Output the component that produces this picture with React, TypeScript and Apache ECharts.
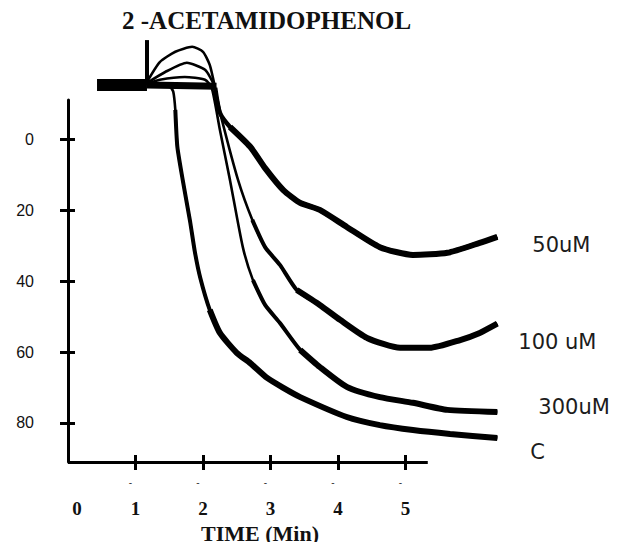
import React, { useEffect, useRef } from "react";
import * as echarts from "echarts";

// ---- Text ----
const chartTitle = "2 -ACETAMIDOPHENOL";
const xAxisName = "TIME (Min)";

// ---- Axis ticks / labels ----
const xTickLabels = [0, 1, 2, 3, 4, 5];
const xTickMarks = [1, 2, 3, 4, 5];
const yTickLabels = [0, 20, 40, 60, 80];
const xMin = 0;
const xAxisEnd = 5.33; // where the drawn time axis stops
const xTraceEnd = 6.4; // the recorder traces run past the axis
const yMin = -11.1; // top of the drawn axis (inverted scale)
const yMax = 91.0; // bottom of the drawn axis

// ---- Trace data: [time (min), % aggregation] ----
const baselineEarly: [number, number][] = [
  [0.43, -15.3],
  [0.8, -15.3],
  [1.17, -15.3],
];
const baselineLate: [number, number][] = [
  [1.17, -15.3],
  [1.6, -15.2],
  [2.2, -15.0],
];
const agonistSpike: [number, number][] = [
  [1.17, -28.0],
  [1.17, -15.3],
];

const curve50: [number, number][] = [
  [1.17, -16.2], [1.36, -21.8], [1.59, -24.7], [1.84, -26.1], [2.0, -24.7],
  [2.1, -21.0], [2.18, -14.5], [2.25, -7.5], [2.4, -3.5], [2.7, 2.1],
  [2.92, 8.1], [3.19, 14.3], [3.44, 17.9], [3.73, 19.9], [4.13, 24.7],
  [4.62, 30.4], [5.11, 32.6], [5.62, 32.0], [6.1, 29.2], [6.36, 27.5],
];
const curve100: [number, number][] = [
  [1.17, -15.9], [1.44, -19.0], [1.76, -21.6], [2.03, -19.6], [2.16, -15.4],
  [2.28, -5.5], [2.52, 11.5], [2.73, 22.7], [2.92, 30.4], [3.14, 35.4],
  [3.39, 42.5], [3.73, 46.7], [4.03, 50.9], [4.43, 56.0], [4.92, 58.8],
  [5.36, 58.8], [5.81, 56.6], [6.1, 54.6], [6.36, 52.0],
];
const curve300: [number, number][] = [
  [1.17, -15.6], [1.36, -16.8], [1.73, -17.6], [2.03, -16.8], [2.13, -14.5],
  [2.25, -2.7], [2.4, 11.5], [2.59, 30.4], [2.74, 39.7], [2.92, 46.7],
  [3.14, 51.8], [3.44, 59.4], [3.73, 64.2], [4.13, 69.8], [4.62, 72.7],
  [5.11, 74.3], [5.62, 76.3], [6.36, 76.9],
];
const curveC: [number, number][] = [
  [1.17, -15.1], [1.51, -14.8], [1.56, -13.4], [1.59, -8.3], [1.62, 2.1],
  [1.7, 11.5], [1.81, 23.3], [1.88, 31.8], [1.96, 39.1], [2.1, 48.1],
  [2.25, 54.6], [2.5, 60.2], [2.7, 63.1], [2.95, 67.3], [3.19, 70.1],
  [3.44, 72.7], [4.13, 78.3], [4.62, 80.6], [5.11, 82.0], [5.66, 83.1],
  [6.36, 84.2],
];

const traceNames = ["50uM", "100 uM", "300uM", "C"];
const traces = [curve50, curve100, curve300, curveC];
// the recorder pen line gets thicker (noisier) as each trace settles
const midFrom = [2.17, 2.7, 2.7, 1.59];
const thickFrom = [2.4, 3.3, 3.3, 2.1];
const thinWidth = [2.6, 2.6, 2.6, 2.6];
const midWidth = [4.5, 4, 4, 4];
const thickWidth = [6, 6, 6, 6];
// end label placement relative to the trace end [distance, dy]
const labelPlace: [number, number][] = [
  [35, 8],
  [21, 18],
  [41, -5],
  [33, 14],
];

export default function App() {
  const ref = useRef<HTMLDivElement>(null);

  useEffect(() => {
    if (!ref.current) return;
    const chart = echarts.init(ref.current, null, { renderer: "svg" });

    const ink = "#000";
    const base = {
      type: "line" as const,
      symbol: "none",
      showSymbol: false,
      clip: false,
      silent: true,
      smooth: 0.2,
      xAxisIndex: 0,
      yAxisIndex: 0,
    };

    const series: any[] = [];
    series.push({
      ...base,
      smooth: false,
      data: baselineEarly,
      lineStyle: { color: ink, width: 12 },
      // the drawn time axis, which stops short of the traces' end
      markLine: {
        silent: true,
        symbol: "none",
        label: { show: false },
        lineStyle: { color: ink, width: 3, type: "solid" },
        data: [[{ coord: [xMin, yMax] }, { coord: [xAxisEnd, yMax] }]],
      },
    });
    series.push({ ...base, smooth: false, data: baselineLate, lineStyle: { color: ink, width: 7 } });
    series.push({ ...base, smooth: false, data: agonistSpike, lineStyle: { color: ink, width: 4 } });

    traces.forEach((pts, i) => {
      series.push({
        ...base,
        name: traceNames[i] + " thin",
        data: pts,
        lineStyle: { color: ink, width: thinWidth[i] },
      });
      series.push({
        ...base,
        name: traceNames[i] + " mid",
        data: pts.filter((p) => p[0] >= midFrom[i]),
        lineStyle: { color: ink, width: midWidth[i] },
      });
      series.push({
        ...base,
        name: traceNames[i],
        data: pts.filter((p) => p[0] >= thickFrom[i]),
        lineStyle: { color: ink, width: thickWidth[i] },
        endLabel: {
          show: true,
          formatter: traceNames[i],
          distance: labelPlace[i][0],
          offset: [0, labelPlace[i][1]],
          color: "#1c1c1c",
          fontFamily: "DejaVu Sans",
          fontSize: 21,
          align: "left",
          verticalAlign: "middle",
        },
      });
    });

    chart.setOption({
      animation: false,
      backgroundColor: "#fff",
      title: {
        text: chartTitle,
        left: 122,
        top: 8,
        padding: 0,
        textStyle: {
          fontFamily: "Liberation Serif",
          fontWeight: "bold",
          fontSize: 25,
          color: "#111",
        },
      },
      grid: { left: 68, top: 100, width: 432, height: 362, containLabel: false },
      xAxis: [
        {
          type: "value",
          position: "bottom",
          min: xMin,
          max: xTraceEnd,
          name: xAxisName,
          nameLocation: "middle",
          nameGap: 56,
          nameTextStyle: {
            fontFamily: "Liberation Serif",
            fontWeight: "bold",
            fontSize: 22,
            color: "#111",
            padding: [0, 48, 0, 0],
          },
          axisLine: { show: false, onZero: false },
          axisTick: {
            show: true,
            customValues: xTickMarks,
            length: 8,
            lineStyle: { color: ink, width: 3 },
          },
          axisLabel: {
            customValues: xTickLabels,
            margin: 7,
            formatter: (v: number) => (v === 0 ? "{s| }\n{z|0}" : "{d|-}\n{n|" + v + "}"),
            rich: {
              s: { fontSize: 10, lineHeight: 26 },
              d: {
                fontSize: 10,
                lineHeight: 26,
                color: "#333",
                fontFamily: "Liberation Sans",
                padding: [0, 10, 0, 0],
              },
              n: {
                fontFamily: "Liberation Serif",
                fontWeight: "bold",
                fontSize: 19,
                lineHeight: 26,
                color: "#111",
              },
              z: {
                fontFamily: "Liberation Serif",
                fontWeight: "bold",
                fontSize: 19,
                lineHeight: 26,
                color: "#111",
                padding: [0, 0, 0, 18],
              },
            },
          },
          splitLine: { show: false },
        },
        {
          type: "value",
          position: "bottom",
          min: xMin,
          max: xTraceEnd,
          axisLine: { show: false, onZero: false },
          axisTick: {
            show: true,
            inside: true,
            customValues: xTickMarks,
            length: 7,
            lineStyle: { color: ink, width: 3 },
          },
          axisLabel: { show: false },
          splitLine: { show: false },
        },
      ],
      yAxis: [
        {
          type: "value",
          inverse: true,
          min: yMin,
          max: yMax,
          axisLine: { show: true, onZero: false, lineStyle: { color: ink, width: 3 } },
          axisTick: {
            show: true,
            customValues: yTickLabels,
            length: 8,
            lineStyle: { color: ink, width: 3 },
          },
          axisLabel: {
            customValues: yTickLabels,
            margin: 34,
            fontFamily: "Liberation Sans",
            fontSize: 16,
            color: "#111",
          },
          splitLine: { show: false },
        },
        {
          type: "value",
          inverse: true,
          min: yMin,
          max: yMax,
          position: "left",
          axisLine: { show: false, onZero: false },
          axisTick: {
            show: true,
            inside: true,
            customValues: yTickLabels,
            length: 7,
            lineStyle: { color: ink, width: 3 },
          },
          axisLabel: { show: false },
          splitLine: { show: false },
        },
      ],
      series,
    });

    return () => chart.dispose();
  }, []);

  return <div ref={ref} style={{ width: 619, height: 550, margin: -8 }} />;
}
